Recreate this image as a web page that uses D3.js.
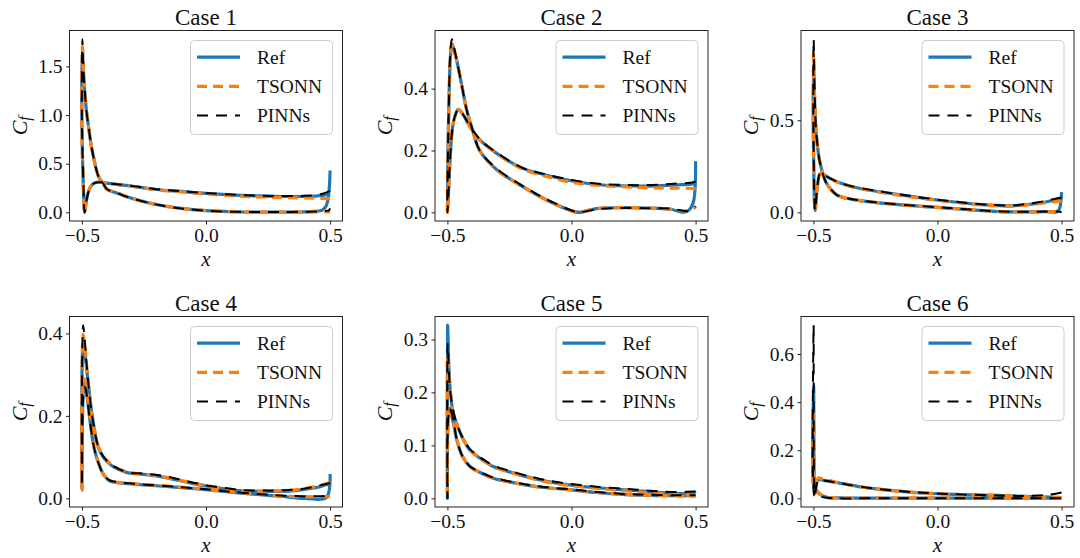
<!DOCTYPE html>
<html><head><meta charset="utf-8">
<script src="https://cdn.jsdelivr.net/npm/d3@7"></script>
<style>
html,body{margin:0;padding:0;background:#fff;}
svg{display:block;font-family:"Liberation Serif","Times New Roman",serif;}
</style></head>
<body><svg id="chart" width="1080" height="558"></svg>
<script>
// ---------------- data ----------------
const caseTitles = ["Case 1","Case 2","Case 3","Case 4","Case 5","Case 6"];
const seriesNames = ["Ref","TSONN","PINNs"];
const xTicks = [-0.5, 0.0, 0.5];
const yTicks1 = [0.0, 0.5, 1.0, 1.5];
const yTicks2 = [0.0, 0.2, 0.4];
const yTicks3 = [0.0, 0.5];
const yTicks4 = [0.0, 0.2, 0.4];
const yTicks5 = [0.0, 0.1, 0.2, 0.3];
const yTicks6 = [0.0, 0.2, 0.4, 0.6];

// Case 1 (path: one surface TE->LE, then other surface LE->TE)
const c1x = [0.5,0.48,0.45,0.4,0.3,0.2,0.1,0.0,-0.1,-0.2,-0.3,-0.35,-0.4,-0.43,-0.45,-0.465,-0.475,-0.483,-0.489,-0.494,-0.5,
             -0.498,-0.495,-0.49,-0.482,-0.47,-0.462,-0.45,-0.442,-0.43,-0.415,-0.4,-0.35,-0.3,-0.2,-0.1,0.0,0.1,0.2,0.3,0.4,0.45,0.47,0.485,0.495,0.5];
const c1ref = [0.20,0.18,0.17,0.165,0.163,0.17,0.18,0.195,0.215,0.235,0.27,0.285,0.30,0.31,0.30,0.265,0.20,0.10,0.0,0.25,0.9,
               1.7,1.5,1.3,1.05,0.82,0.68,0.53,0.44,0.35,0.30,0.24,0.19,0.145,0.08,0.04,0.017,0.006,0.003,0.003,0.005,0.012,0.025,0.07,0.2,0.43];
const c1tsonn = [0.14,0.14,0.145,0.148,0.152,0.16,0.172,0.188,0.21,0.232,0.268,0.283,0.30,0.31,0.30,0.265,0.20,0.10,0.0,0.25,0.9,
                 1.7,1.5,1.3,1.05,0.82,0.68,0.53,0.44,0.35,0.30,0.24,0.19,0.145,0.08,0.04,0.017,0.006,0.003,0.003,0.004,0.005,0.005,0.005,0.005,0.0];
const c1pinns = [0.22,0.2,0.178,0.17,0.168,0.172,0.183,0.198,0.218,0.238,0.272,0.287,0.30,0.31,0.30,0.265,0.20,0.10,0.0,0.3,1.0,
                 1.78,1.52,1.3,1.05,0.82,0.68,0.53,0.44,0.35,0.30,0.24,0.19,0.145,0.08,0.04,0.018,0.007,0.004,0.004,0.006,0.01,0.012,0.015,0.02,0.04];

// Case 2
const c2x = [0.5,0.49,0.4,0.3,0.2,0.1,0.0,-0.1,-0.2,-0.3,-0.37,-0.41,-0.44,-0.456,-0.47,-0.48,-0.49,-0.5,
             -0.494,-0.488,-0.482,-0.475,-0.462,-0.442,-0.422,-0.4,-0.37,-0.3,-0.2,-0.1,0.0,0.03,0.1,0.2,0.3,0.4,0.45,0.47,0.49,0.5];
const c2ref = [0.095,0.092,0.088,0.085,0.086,0.09,0.102,0.12,0.143,0.19,0.235,0.278,0.32,0.333,0.31,0.27,0.16,0.0,
               0.35,0.5,0.545,0.53,0.49,0.41,0.33,0.27,0.2,0.137,0.085,0.04,0.005,0.0,0.012,0.015,0.014,0.01,0.0,0.005,0.03,0.165];
const c2tsonn = [0.075,0.077,0.078,0.08,0.083,0.088,0.097,0.116,0.141,0.19,0.235,0.278,0.32,0.333,0.31,0.27,0.16,0.0,
                 0.33,0.49,0.54,0.53,0.49,0.41,0.33,0.27,0.2,0.137,0.085,0.04,0.005,0.0,0.012,0.015,0.014,0.01,0.005,0.006,0.01,0.02];
const c2pinns = [0.1,0.097,0.092,0.088,0.089,0.093,0.105,0.122,0.145,0.192,0.237,0.28,0.32,0.333,0.31,0.27,0.16,0.0,
                 0.36,0.52,0.56,0.54,0.49,0.41,0.33,0.27,0.2,0.14,0.087,0.042,0.006,0.0,0.01,0.014,0.013,0.012,0.005,0.004,0.01,0.02];

// Case 3
const c3x = [0.5,0.49,0.45,0.4,0.3,0.2,0.1,0.0,-0.1,-0.2,-0.27,-0.35,-0.405,-0.44,-0.46,-0.473,-0.485,-0.493,-0.5,
             -0.499,-0.495,-0.49,-0.485,-0.478,-0.47,-0.46,-0.45,-0.43,-0.405,-0.35,-0.27,-0.2,-0.1,0.0,0.1,0.2,0.27,0.35,0.45,0.485,0.5];
const c3ref = [0.078,0.075,0.06,0.049,0.035,0.04,0.052,0.067,0.085,0.105,0.12,0.142,0.166,0.19,0.205,0.21,0.13,0.01,0.4,
               0.8,0.6,0.45,0.38,0.3,0.25,0.2,0.165,0.125,0.094,0.072,0.057,0.047,0.036,0.027,0.017,0.008,0.003,0.002,0.004,0.005,0.11];
const c3tsonn = [0.06,0.06,0.055,0.046,0.033,0.038,0.05,0.065,0.083,0.103,0.118,0.14,0.165,0.19,0.205,0.21,0.13,0.01,0.45,
                 0.87,0.62,0.46,0.38,0.3,0.25,0.2,0.165,0.125,0.094,0.072,0.057,0.047,0.036,0.027,0.017,0.008,0.003,0.002,0.003,0.004,0.0];
const c3pinns = [0.08,0.078,0.066,0.053,0.038,0.042,0.054,0.069,0.087,0.107,0.122,0.143,0.166,0.19,0.205,0.21,0.13,0.01,0.5,
                 0.94,0.64,0.46,0.38,0.3,0.25,0.2,0.165,0.125,0.094,0.073,0.058,0.048,0.037,0.028,0.018,0.009,0.004,0.003,0.004,0.005,0.0];

// Case 4
const c4x = [0.5,0.485,0.45,0.4,0.35,0.25,0.15,0.0,-0.1,-0.187,-0.25,-0.321,-0.388,-0.429,-0.456,-0.476,-0.488,-0.495,-0.5,
             -0.494,-0.488,-0.48,-0.47,-0.46,-0.45,-0.43,-0.41,-0.388,-0.3,-0.187,-0.1,0.0,0.1,0.217,0.3,0.4,0.485,0.5];
const c4ref = [0.035,0.033,0.027,0.022,0.018,0.017,0.018,0.03,0.042,0.053,0.058,0.063,0.083,0.116,0.19,0.288,0.35,0.37,0.02,
               0.26,0.28,0.25,0.2,0.155,0.12,0.08,0.055,0.042,0.035,0.03,0.026,0.021,0.015,0.009,0.005,0.0,0.002,0.059];
const c4tsonn = [0.04,0.036,0.03,0.024,0.02,0.018,0.019,0.031,0.043,0.054,0.059,0.064,0.085,0.118,0.19,0.29,0.37,0.398,0.022,
                 0.28,0.29,0.26,0.205,0.16,0.122,0.082,0.056,0.043,0.036,0.031,0.027,0.022,0.016,0.01,0.006,0.004,0.004,0.004];
const c4pinns = [0.037,0.035,0.03,0.024,0.021,0.019,0.02,0.032,0.045,0.056,0.06,0.064,0.085,0.118,0.19,0.29,0.38,0.42,0.03,
                 0.25,0.27,0.25,0.2,0.155,0.12,0.08,0.056,0.044,0.036,0.031,0.027,0.022,0.016,0.01,0.007,0.005,0.005,0.005];

// Case 5
const c5x = [0.5,0.49,0.4,0.3,0.22,0.1,0.0,-0.1,-0.181,-0.25,-0.315,-0.36,-0.409,-0.44,-0.462,-0.476,-0.488,-0.495,-0.499,
             -0.5,-0.497,-0.49,-0.475,-0.462,-0.44,-0.409,-0.36,-0.315,-0.25,-0.181,-0.1,0.0,0.1,0.22,0.3,0.4,0.49,0.5];
const c5ref = [0.013,0.01,0.01,0.013,0.016,0.02,0.025,0.032,0.041,0.05,0.06,0.073,0.091,0.115,0.14,0.16,0.2,0.26,0.327,
               0.0,0.15,0.17,0.14,0.11,0.08,0.06,0.047,0.038,0.031,0.025,0.02,0.016,0.011,0.007,0.006,0.005,0.005,0.005];
const c5tsonn = [0.006,0.006,0.008,0.011,0.014,0.019,0.024,0.031,0.04,0.05,0.06,0.073,0.091,0.115,0.14,0.16,0.2,0.24,0.27,
                 0.01,0.14,0.16,0.14,0.11,0.08,0.06,0.047,0.038,0.031,0.025,0.02,0.016,0.011,0.007,0.006,0.005,0.004,0.004];
const c5pinns = [0.013,0.013,0.012,0.015,0.018,0.022,0.027,0.034,0.043,0.052,0.062,0.075,0.093,0.116,0.14,0.165,0.2,0.25,0.292,
                 0.0,0.15,0.17,0.145,0.11,0.08,0.06,0.048,0.039,0.032,0.026,0.021,0.017,0.012,0.008,0.007,0.006,0.006,0.006];

// Case 6
const c6x = [0.5,0.45,0.35,0.24,0.1,0.0,-0.1,-0.23,-0.3,-0.365,-0.42,-0.46,-0.48,-0.488,-0.494,-0.499,
             -0.5,-0.495,-0.485,-0.473,-0.446,-0.4,-0.3,-0.1,0.1,0.3,0.5];
const c6ref = [0.003,0.005,0.008,0.012,0.016,0.019,0.025,0.037,0.046,0.058,0.068,0.075,0.078,0.06,0.02,0.47,
               0.06,0.045,0.03,0.017,0.004,0.002,0.001,0.001,0.001,0.001,0.001];
const c6tsonn = [0.003,0.005,0.008,0.012,0.016,0.019,0.025,0.037,0.046,0.058,0.07,0.08,0.085,0.07,0.02,0.35,
                 0.05,0.04,0.028,0.016,0.004,0.002,0.001,0.001,0.001,0.001,0.001];
const c6pinns = [0.024,0.015,0.01,0.012,0.016,0.02,0.026,0.038,0.047,0.058,0.068,0.074,0.076,0.05,0.015,0.72,
                 0.04,0.01,0.015,0.008,0.002,0.0,0.0,0.0,0.0,0.0,0.0];

const caseX = [c1x,c2x,c3x,c4x,c5x,c6x];
const caseSeries = [[c1ref,c1tsonn,c1pinns],[c2ref,c2tsonn,c2pinns],[c3ref,c3tsonn,c3pinns],
                    [c4ref,c4tsonn,c4pinns],[c5ref,c5tsonn,c5pinns],[c6ref,c6tsonn,c6pinns]];
const caseYTicks = [yTicks1,yTicks2,yTicks3,yTicks4,yTicks5,yTicks6];

// ---------------- style / layout ----------------
const styles = [
  {color:"#1f77b4", width:3.2, dash:null},
  {color:"#ff7f0e", width:3.2, dash:"10,6"},
  {color:"#000000", width:2.0, dash:"11,8"}
];
const colLeft = [69.5, 435, 801];
const rowTop = [30.5, 316.5];
const W = 273, H = 190.5;
const FONT = '"Liberation Serif","Times New Roman",serif';

const svg = d3.select("#chart");

caseTitles.forEach((title, i) => {
  const col = i % 3, row = Math.floor(i / 3);
  const left = colLeft[col], top = rowTop[row];
  const g = svg.append("g").attr("transform", `translate(${left},${top})`);

  const xs = caseX[i];
  const allY = caseSeries[i].flat();
  const [ymin, ymax] = d3.extent(allY);
  const pad = (ymax - ymin) * 0.05;
  const x = d3.scaleLinear().domain([-0.55, 0.55]).range([0, W]);
  const y = d3.scaleLinear().domain([ymin - pad, ymax + pad]).range([H, 0]);

  const clipId = "clip" + i;
  g.append("clipPath").attr("id", clipId).append("rect").attr("width", W).attr("height", H);

  const line = d3.line().x(d => x(d[0])).y(d => y(d[1])).curve(d3.curveCatmullRom.alpha(0.5));
  const plot = g.append("g").attr("clip-path", `url(#${clipId})`);
  caseSeries[i].forEach((ys, s) => {
    const pts = xs.map((xv, k) => [xv, ys[k]]);
    const st = styles[s];
    plot.append("path").attr("d", line(pts))
      .attr("fill", "none").attr("stroke", st.color)
      .attr("stroke-width", st.width)
      .attr("stroke-dasharray", st.dash)
      .attr("stroke-linejoin", "round");
  });

  const fmt = d => d3.format(".1f")(d).replace("-", "\u2212");
  const xAxis = d3.axisBottom(x).tickValues(xTicks).tickFormat(fmt).tickSize(3.5).tickPadding(3);
  const yAxis = d3.axisLeft(y).tickValues(caseYTicks[i]).tickFormat(fmt).tickSize(3.5).tickPadding(3.5);
  const gx = g.append("g").attr("transform", `translate(0,${H})`).call(xAxis);
  const gy = g.append("g").call(yAxis);
  [gx, gy].forEach(a => {
    a.attr("font-family", FONT);
    a.select(".domain").remove();
    a.selectAll("line").attr("stroke", "#222").attr("stroke-width", 1);
    a.selectAll("text").attr("font-size", "19.5px").attr("fill", "#111").attr("font-family", FONT);
  });
  gx.selectAll("text").attr("dy", "0.75em");

  g.append("rect").attr("width", W).attr("height", H)
    .attr("fill", "none").attr("stroke", "#222").attr("stroke-width", 1);

  g.append("text").attr("x", W / 2).attr("y", -6).attr("text-anchor", "middle")
    .attr("font-size", "23px").attr("fill", "#111").text(title);

  g.append("text").attr("x", W / 2).attr("y", H + 45).attr("text-anchor", "middle")
    .attr("font-size", "21px").attr("font-style", "italic").attr("fill", "#111").text("x");

  const yl = g.append("text").attr("transform", `translate(-43,${H / 2}) rotate(-90)`)
    .attr("text-anchor", "middle").attr("font-size", "22px").attr("fill", "#111");
  yl.append("tspan").attr("font-style", "italic").text("C");
  yl.append("tspan").attr("font-style", "italic").attr("font-size", "16px").attr("dy", "3").text("f");

  const lw = 142, lh = 94;
  const lg = g.append("g").attr("transform", `translate(${W - 10 - lw},10)`);
  lg.append("rect").attr("width", lw).attr("height", lh).attr("rx", 4)
    .attr("fill", "#fff").attr("fill-opacity", 0.8).attr("stroke", "#cccccc").attr("stroke-width", 1);
  const rowsY = [16.6, 45.8, 75];
  seriesNames.forEach((nm, s) => {
    const st = styles[s];
    lg.append("line").attr("x1", 6.5).attr("x2", 49.5).attr("y1", rowsY[s]).attr("y2", rowsY[s])
      .attr("stroke", st.color).attr("stroke-width", st.width).attr("stroke-dasharray", st.dash);
    lg.append("text").attr("x", 66.5).attr("y", rowsY[s]).attr("dy", "0.35em")
      .attr("font-size", "19.5px").attr("fill", "#111").text(nm);
  });
});
</script></body></html>
